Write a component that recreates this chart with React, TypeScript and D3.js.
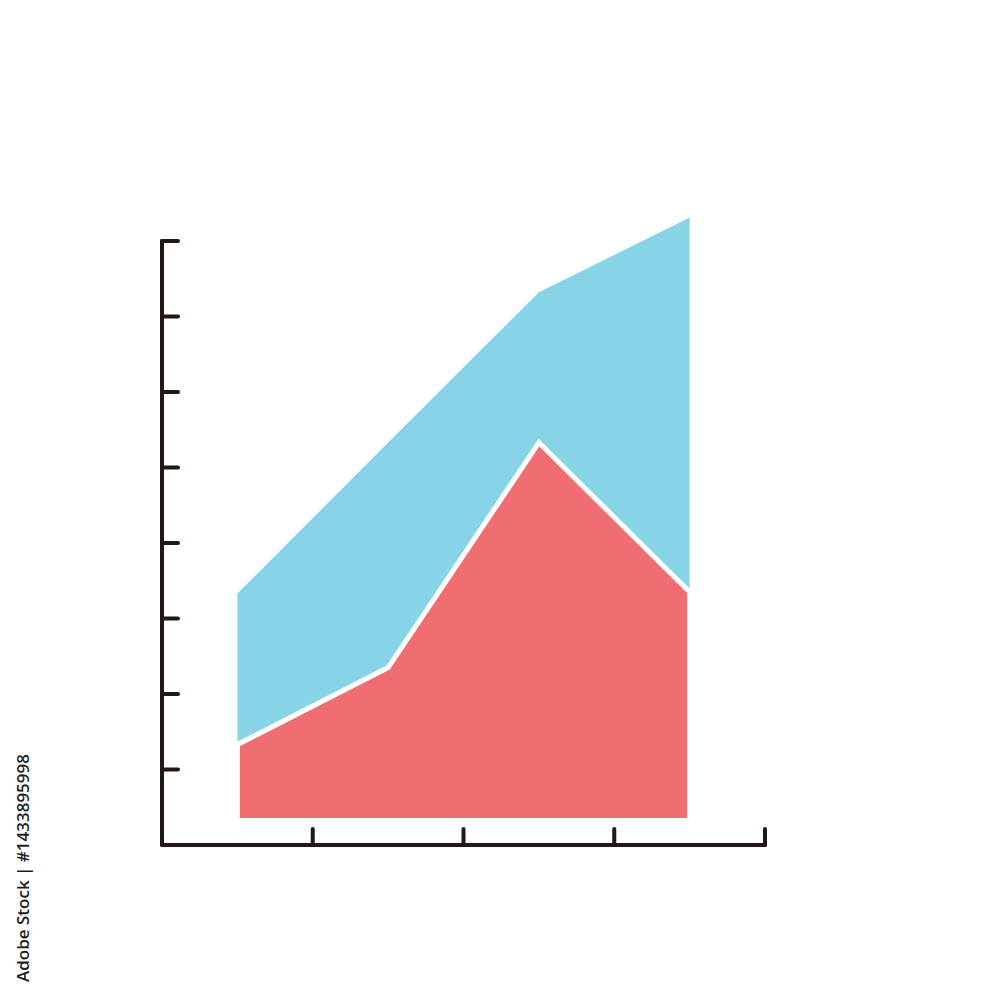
import React from "react";
import * as d3 from "d3";

// x positions are category slots (half-way between ticks)
const categories = [0.5, 1.5, 2.5, 3.5];
const baseValue = 0.325;
const redValues = [1.33, 2.35, 5.33, 3.35];
const blueTotals = [3.33, 5.33, 7.32, 8.31];
const xTicks = [1, 2, 3, 4];
const yTicks = [1, 2, 3, 4, 5, 6, 7, 8];

export default function App() {
  const W = 1000, H = 1000;
  const x = d3.scaleLinear().domain([0, 4]).range([162, 765]);
  const y = d3.scaleLinear().domain([0, 8]).range([845, 241]);

  const blueArea = d3
    .area<number>()
    .x((_, i) => x(categories[i]))
    .y0((_, i) => y(redValues[i]))
    .y1((d) => y(d));
  const redArea = d3
    .area<number>()
    .x((_, i) => x(categories[i]))
    .y0(() => y(baseValue))
    .y1((d) => y(d));

  const axisColor = "#231815";
  return (
    <svg width={W} height={H} style={{ display: "block", position: "absolute", left: 0, top: 0 }}>
      <rect width={W} height={H} fill="#ffffff" />
      <path d={blueArea(blueTotals) || ""} fill="#87D4E8" />
      <path d={redArea(redValues) || ""} fill="#F06E72" stroke="#ffffff" strokeWidth={5} strokeLinejoin="miter" />
      {/* axes */}
      <line x1={x(0)} y1={y(0)} x2={x(0)} y2={y(8)} stroke={axisColor} strokeWidth={4} strokeLinecap="round" />
      <line x1={x(0)} y1={y(0)} x2={x(4)} y2={y(0)} stroke={axisColor} strokeWidth={4} strokeLinecap="round" />
      {yTicks.map((t) => (
        <line key={"y" + t} x1={x(0)} x2={x(0) + 16} y1={y(t)} y2={y(t)} stroke={axisColor} strokeWidth={4} strokeLinecap="round" />
      ))}
      {xTicks.map((t) => (
        <line key={"x" + t} x1={x(t)} x2={x(t)} y1={y(0)} y2={y(0) - 16} stroke={axisColor} strokeWidth={4} strokeLinecap="round" />
      ))}
      <text
        transform="translate(29,868) rotate(-90)"
        textAnchor="middle"
        fontFamily="Open Sans, sans-serif"
        fontSize={17}
        fontWeight={600}
        fill="#1e1e1e"
      >
        Adobe Stock | #1433895998
      </text>
    </svg>
  );
}
